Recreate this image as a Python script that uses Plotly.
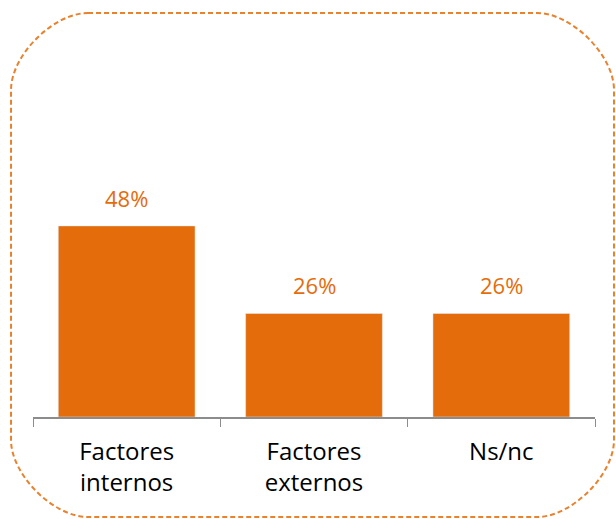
import plotly.graph_objects as go

categories = ["Factores<br>internos", "Factores<br>externos", "Ns/nc"]
values = [48, 26, 26]
value_labels = ["48%", "26%", "26%"]

ORANGE = "#E46C0A"
BORDER = "#E8822E"
W, H = 616, 519
L, R, T, B = 33, 21, 40, 102


def px_x(x):
    return (x - L) / (W - L - R)


def px_y(y):
    return (H - B - y) / (H - T - B)


fig = go.Figure()
fig.add_trace(go.Bar(
    x=categories, y=values, marker_color=ORANGE, width=0.73,
    hoverinfo="skip",
))

for cat, v, lab in zip(categories, values, value_labels):
    fig.add_annotation(
        x=cat, y=v, text=lab, showarrow=False, yanchor="bottom", yshift=11,
        font=dict(family="Open Sans", size=22, color=ORANGE),
    )

# rounded dashed frame, pixel coordinates converted to paper space
x0, x1, y0, y1, r = 11, 614, 13, 517, 77
k = r * 0.45
pts = [
    ("M", x0 + r, y0), ("L", x1 - r, y0),
    ("C", x1 - r + k, y0, x1, y0 + r - k, x1, y0 + r),
    ("L", x1, y1 - r),
    ("C", x1, y1 - r + k, x1 - r + k, y1, x1 - r, y1),
    ("L", x0 + r, y1),
    ("C", x0 + r - k, y1, x0, y1 - r + k, x0, y1 - r),
    ("L", x0, y0 + r),
    ("C", x0, y0 + r - k, x0 + r - k, y0, x0 + r, y0),
]
path = ""
for p in pts:
    cmd, coords = p[0], p[1:]
    conv = []
    for i in range(0, len(coords), 2):
        conv.append(f"{px_x(coords[i]):.4f},{px_y(coords[i + 1]):.4f}")
    path += cmd + " " + " ".join(conv) + " "
path += "Z"
fig.add_shape(type="path", path=path, xref="paper", yref="paper",
              line=dict(color=BORDER, width=2, dash="5px,3px"))

fig.update_layout(
    width=W, height=H,
    margin=dict(l=L, r=R, t=T, b=B, autoexpand=False),
    plot_bgcolor="white", paper_bgcolor="white",
    showlegend=False,
    bargap=0.27,
)
fig.update_xaxes(
    automargin=False,
    showline=True, linecolor="#8C8C8C", linewidth=1.5,
    ticks="outside", tickson="boundaries", ticklen=8, tickcolor="#8C8C8C",
    ticklabelstandoff=12,
    tickfont=dict(family="Open Sans", size=24, color="black"),
    showgrid=False,
)
fig.update_yaxes(range=[0, 94.7], visible=False, showgrid=False)

fig.write_html("out.html", config={"displayModeBar": False},
               post_script="document.body.style.margin='0';")
